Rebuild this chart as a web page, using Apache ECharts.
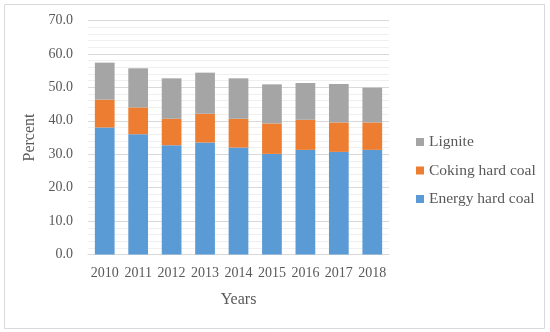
<!DOCTYPE html>
<html>
<head>
<meta charset="utf-8">
<script src="https://cdn.jsdelivr.net/npm/echarts@6/dist/echarts.min.js"></script>
<style>html,body{margin:0;padding:0;background:#fff;}#c{width:550px;height:332px;}</style>
</head>
<body>
<div id="c"></div>
<script>
const years = ['2010','2011','2012','2013','2014','2015','2016','2017','2018'];
const energyHardCoal = [38.0, 36.0, 32.7, 33.5, 32.0, 30.1, 31.3, 30.7, 31.3];
const cokingHardCoal = [8.3, 8.0, 7.9, 8.6, 8.6, 9.1, 9.0, 8.8, 8.2];
const lignite = [11.1, 11.7, 12.1, 12.3, 12.1, 11.7, 11.0, 11.5, 10.4];
const legendOrder = ['Lignite', 'Coking hard coal', 'Energy hard coal'];

const font = '"Liberation Serif", "DejaVu Serif", serif';
const textColor = '#595959';
const chart = echarts.init(document.getElementById('c'), null, {renderer: 'canvas'});
chart.setOption({
  animation: false,
  backgroundColor: '#fff',
  grid: {left: 88, right: 161, top: 20.5, bottom: 77.5, containLabel: false},
  graphic: [{
    type: 'rect', silent: true,
    shape: {x: 4.5, y: 4.5, width: 540, height: 324},
    style: {fill: 'none', stroke: '#d9d9d9', lineWidth: 1}
  }],
  legend: {
    orient: 'vertical', left: 411, top: 129,
    data: legendOrder,
    icon: 'rect', itemWidth: 8, itemHeight: 8, itemGap: 12.5,
    textStyle: {fontFamily: font, fontSize: 15.5, color: textColor, lineHeight: 16}
  },
  xAxis: {
    type: 'category', data: years,
    name: 'Years', nameLocation: 'middle', nameGap: 37,
    nameTextStyle: {fontFamily: font, fontSize: 16, color: textColor},
    axisLine: {lineStyle: {color: '#d9d9d9'}},
    axisTick: {show: false},
    axisLabel: {fontFamily: font, fontSize: 14, color: textColor, margin: 12, interval: 0, hideOverlap: false}
  },
  yAxis: {
    type: 'value', min: 0, max: 70, interval: 10,
    name: 'Percent', nameLocation: 'middle', nameGap: 46,
    nameTextStyle: {fontFamily: font, fontSize: 16, color: textColor},
    axisLine: {show: false}, axisTick: {show: false},
    axisLabel: {fontFamily: font, fontSize: 14, color: textColor, margin: 15,
      formatter: v => v.toFixed(1)},
    splitLine: {lineStyle: {color: '#d9d9d9'}},
    minorTick: {show: false, splitNumber: 5},
    minorSplitLine: {show: true, lineStyle: {color: '#efefef'}}
  },
  series: [
    {name: 'Energy hard coal', type: 'bar', stack: 's', data: energyHardCoal,
     barCategoryGap: '41%', itemStyle: {color: '#5b9bd5'}},
    {name: 'Coking hard coal', type: 'bar', stack: 's', data: cokingHardCoal,
     itemStyle: {color: '#ed7d31'}},
    {name: 'Lignite', type: 'bar', stack: 's', data: lignite,
     itemStyle: {color: '#a5a5a5'}}
  ]
});
</script>
</body>
</html>
